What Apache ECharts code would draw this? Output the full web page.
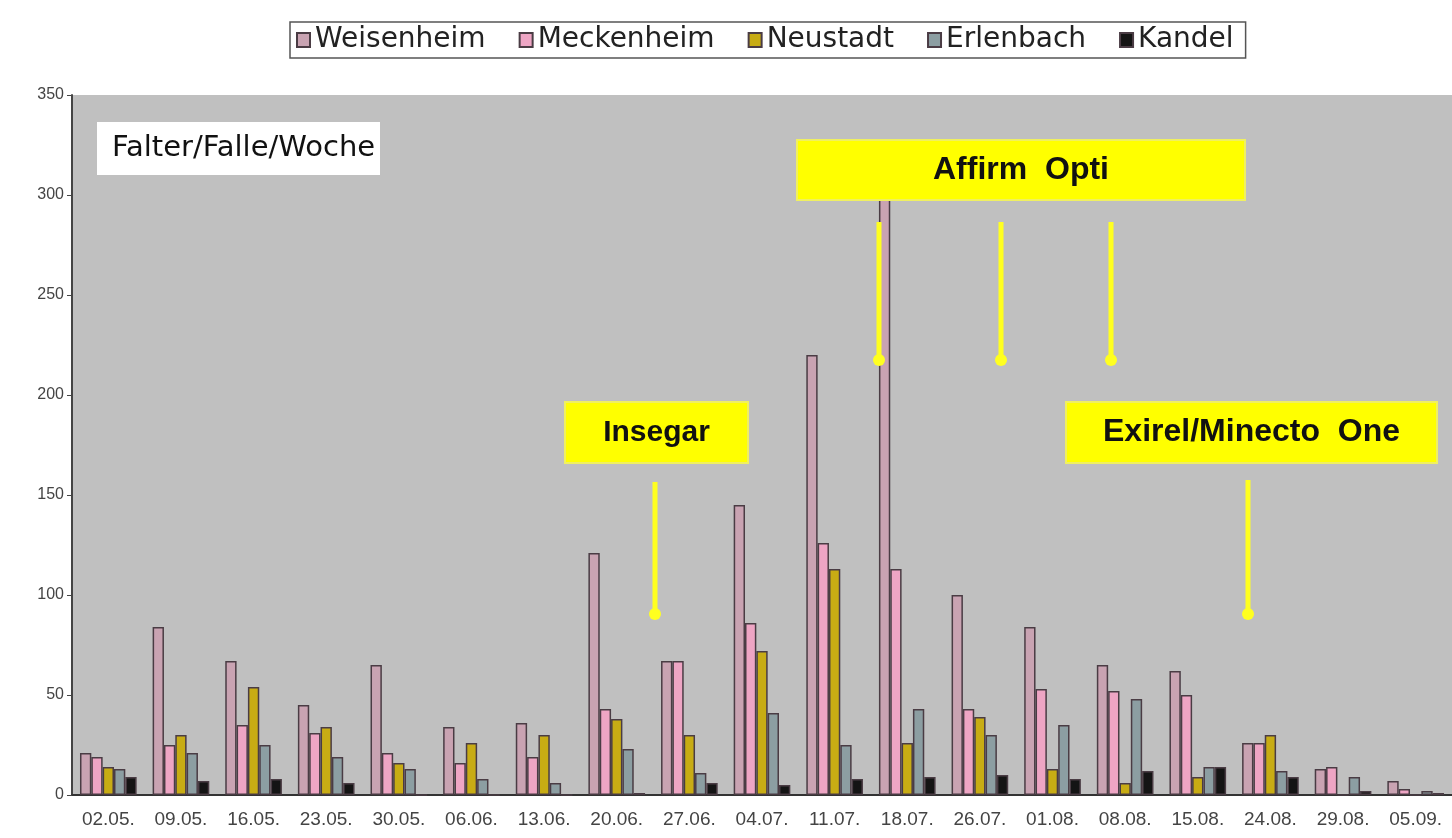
<!DOCTYPE html>
<html>
<head>
<meta charset="utf-8">
<script src="https://cdn.jsdelivr.net/npm/echarts@6/dist/echarts.min.js"></script>
<style>
  html, body { margin: 0; padding: 0; background: #fff; }
  #chart { width: 1452px; height: 838px; }
</style>
</head>
<body>
<div id="chart"></div>
<script>
// Wochen (Fangdatum)
const weeks = ['02.05.', '09.05.', '16.05.', '23.05.', '30.05.', '06.06.', '13.06.', '20.06.', '27.06.', '04.07.',
  '11.07.', '18.07.', '26.07.', '01.08.', '08.08.', '15.08.', '24.08.', '29.08.', '05.09.']

// Falter pro Falle und Woche
const weisenheim = [21, 84, 67, 45, 65, 34, 36, 121, 67, 145, 220, 322, 100, 84, 65, 62, 26, 13, 7]
const meckenheim = [19, 25, 35, 31, 21, 16, 19, 43, 67, 86, 126, 113, 43, 53, 52, 50, 26, 14, 3]
const neustadt = [14, 30, 54, 34, 16, 26, 30, 38, 30, 72, 113, 26, 39, 13, 6, 9, 30, 0, 0]
const erlenbach = [13, 21, 25, 19, 13, 8, 6, 23, 11, 41, 25, 43, 30, 35, 48, 14, 12, 9, 2]
const kandel = [9, 7, 8, 6, 0, 0, 0, 1, 6, 5, 8, 9, 10, 8, 12, 14, 9, 2, 1]

const yTicks = { min: 0, max: 350, interval: 50 }

const chart = echarts.init(document.getElementById('chart'))

const barSeries = (name, data, fill) => ({
  name,
  type: 'bar',
  data,
  z: 2,
  barGap: '0%',
  barCategoryGap: '22%',
  itemStyle: { color: fill, borderColor: '#4a3c44', borderWidth: 1.5 }
})

// gelbe Pfeile
const arrow = (x, y1, y2) => ([
  {
    type: 'line', z: 50,
    shape: { x1: x, y1: y1, x2: x, y2: y2 - 6 },
    style: { stroke: '#ffff20', lineWidth: 5 }
  },
  {
    type: 'circle', z: 50,
    shape: { cx: x, cy: y2 - 6, r: 6 },
    style: { fill: '#ffff20' }
  }
])

const label = (x, y, w, h, text, size) => ([
  { type: 'rect', z: 60, shape: { x: x, y: y, width: w, height: h }, style: { fill: '#ffff00', stroke: '#f0f060', lineWidth: 2 } },
  {
    type: 'text', z: 61,
    style: {
      x: x + w / 2, y: y + h / 2, text, fill: '#111',
      font: 'bold ' + size + 'px "Liberation Sans", Arial, sans-serif',
      align: 'center', verticalAlign: 'middle'
    }
  }
])

const option = {
  animation: false,
  backgroundColor: '#fff',
  legend: {
    top: 22,
    left: 290,
    padding: [4, 12, 4, 6],
    backgroundColor: '#fff',
    borderColor: '#555',
    borderWidth: 1.5,
    itemWidth: 13,
    itemHeight: 14,
    itemGap: 33,
    icon: 'rect',
    textStyle: { fontSize: 28, color: '#222', fontFamily: '"DejaVu Sans", sans-serif' }
  },
  grid: {
    left: 72,
    right: -14,
    top: 95,
    bottom: 43,
    show: true,
    backgroundColor: '#c0c0c0',
    borderWidth: 0
  },
  xAxis: {
    type: 'category',
    data: weeks,
    axisLine: { lineStyle: { color: '#333', width: 2 } },
    axisTick: { length: 5, lineStyle: { color: '#333' } },
    axisLabel: { fontSize: 19, color: '#444', margin: 15, fontFamily: '"Liberation Sans", Arial, sans-serif' }
  },
  yAxis: {
    type: 'value',
    min: yTicks.min,
    max: yTicks.max,
    interval: yTicks.interval,
    axisLine: { show: true, lineStyle: { color: '#444', width: 2 } },
    axisTick: { show: true, length: 5, lineStyle: { color: '#444' } },
    splitLine: { show: false },
    axisLabel: { fontSize: 16, color: '#444', margin: 8, fontFamily: '"Liberation Sans", Arial, sans-serif' }
  },
  series: [
    barSeries('Weisenheim', weisenheim, '#c9a3b2'),
    barSeries('Meckenheim', meckenheim, '#eea5c4'),
    barSeries('Neustadt', neustadt, '#c8ac14'),
    barSeries('Erlenbach', erlenbach, '#8c9ea2'),
    barSeries('Kandel', kandel, '#141414')
  ],
  graphic: [
    { type: 'rect', z: 40, shape: { x: 97, y: 122, width: 283, height: 53 }, style: { fill: '#fff' } },
    {
      type: 'text', z: 41,
      style: {
        x: 112, y: 148, text: 'Falter/Falle/Woche', fill: '#111',
        font: '29px "DejaVu Sans", sans-serif', verticalAlign: 'middle'
      }
    },
    ...arrow(879, 222, 366),
    ...arrow(1001, 222, 366),
    ...arrow(1111, 222, 366),
    ...arrow(655, 482, 620),
    ...arrow(1248, 480, 620),
    ...label(565, 402, 183, 61, 'Insegar', 30),
    ...label(797, 140, 448, 60, 'Affirm  Opti', 32),
    ...label(1066, 402, 371, 61, 'Exirel/Minecto  One', 32)
  ]
}

chart.setOption(option)
</script>
</body>
</html>
